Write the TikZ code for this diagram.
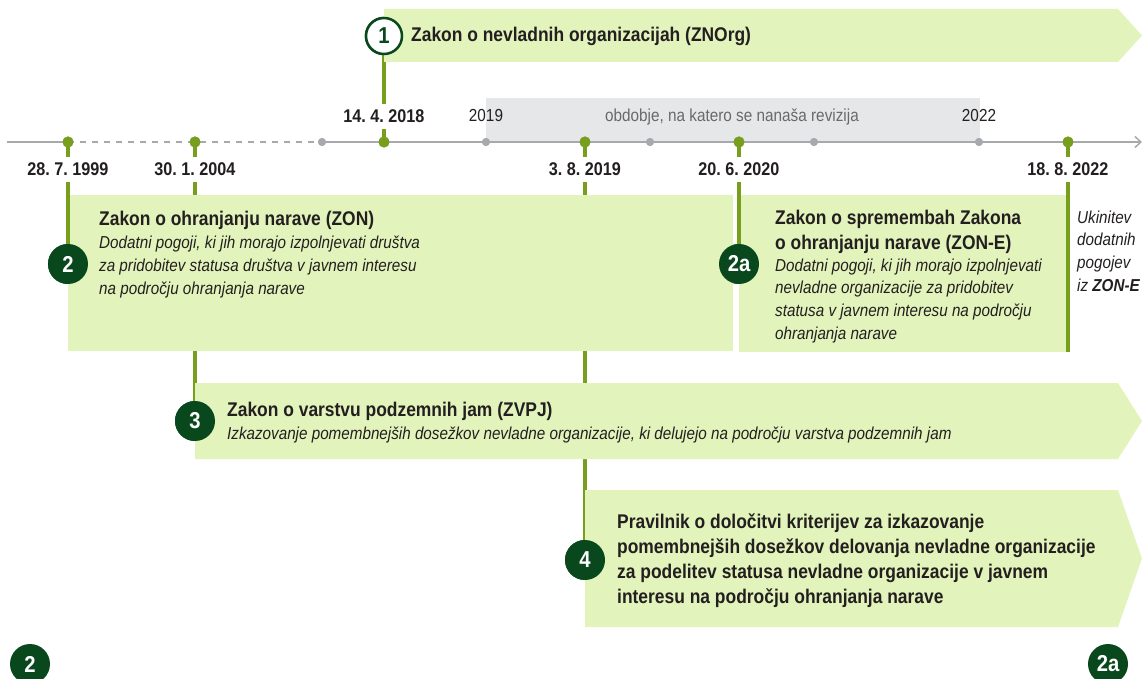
\documentclass[tikz,border=0pt]{standalone}
\usepackage{fontspec}
\setmainfont{Liberation Sans}[FakeStretch=0.88]
\usetikzlibrary{arrows.meta}
\definecolor{boxfill}{RGB}{226,243,187}
\definecolor{lgreen}{RGB}{120,158,30}
\definecolor{dgreen}{RGB}{8,72,28}
\definecolor{tgray}{RGB}{167,169,172}
\definecolor{band}{RGB}{230,231,232}
\definecolor{ink}{RGB}{35,31,32}
\definecolor{bandtxt}{RGB}{105,105,105}
\frenchspacing
\begin{document}
\begin{tikzpicture}[x=1pt,y=-1pt,
 every node/.style={inner sep=0pt, text=ink},
 ttl/.style={anchor=base west, font=\fontsize{19.8}{24}\selectfont\bfseries},
 sub/.style={anchor=base west, font=\fontsize{17.3}{22.5}\selectfont\itshape},
 datelbl/.style={anchor=base, fill=white, inner xsep=3pt, inner ysep=6pt, font=\fontsize{18.4}{23}\selectfont\bfseries},
 yearlbl/.style={anchor=base, font=\fontsize{17.4}{21}\selectfont},
 gdot/.style={circle, fill=lgreen, minimum size=11pt},
 tdot/.style={circle, fill=tgray, minimum size=8pt},
 num/.style={circle, fill=dgreen, minimum size=40pt, text=white, font=\fontsize{23}{26}\selectfont\bfseries},
 numw/.style={circle, fill=white, draw=dgreen, line width=2.5pt, minimum size=36pt, text=dgreen, font=\fontsize{23}{26}\selectfont\bfseries},
 vline/.style={draw=lgreen, line width=4pt},
 tline/.style={draw=tgray, line width=1.5pt},
 boxshape/.style={fill=boxfill}
]
\useasboundingbox (0,0) rectangle (1144,679);
\clip (0,0) rectangle (1144,679);

% period band
\fill[band] (486,98) rectangle (980,142);

% anchors (coordinates)
\coordinate (tstart) at (7,142);
\coordinate (tend) at (1142,142);
\coordinate (e2022) at (1068,352);

% timeline dots as nodes
\node[gdot] (d1999) at (68,142) {};
\node[gdot] (d2004) at (195,142) {};
\node[tdot] (g1) at (322,142) {};
\node[gdot] (d2018) at (384,142) {};
\node[tdot] (g2019) at (486,142) {};
\node[gdot] (d2019) at (585,142) {};
\node[tdot] (g2) at (650,142) {};
\node[gdot] (d2020) at (739,142) {};
\node[tdot] (g3) at (814,142) {};
\node[tdot] (g2022) at (979,142) {};
\node[gdot] (d2022) at (1068,142) {};

% circles
\node[numw] (c1) at (384,36) {1};
\node[num] (c2) at (68,264) {2};
\node[num] (c2a) at (739,264) {2a};
\node[num] (c3) at (195,421) {3};
\node[num] (c4) at (585,560) {4};

% timeline
\draw[tline] (tstart) -- (d1999.center);
\draw[tline, dash pattern=on 6pt off 6pt] (d1999.center) -- (g1.center);
\draw[tline, -{Straight Barb[length=6pt,width=11pt]}] (g1.center) -- (tend);

% vertical lines behind boxes
\draw[vline] (d2018.center) -- (c1.center);
\draw[vline] (d2004.center) -- (c3.center);
\draw[vline] (d2019.center) -- (c4.center);

% boxes
\fill[boxshape] (384,9) -- (1118,9) -- (1142,35.5) -- (1118,62) -- (384,62) -- cycle;
\fill[boxshape] (68,195) rectangle (733,351);
\fill[boxshape] (739,195) rectangle (1068,352);
\fill[boxshape] (195,383) -- (1118,383) -- (1142,421) -- (1118,459) -- (195,459) -- cycle;
\fill[boxshape] (585,490) -- (1118,490) -- (1142,558.5) -- (1118,627) -- (585,627) -- cycle;

% vertical lines on box edges
\draw[vline] (d1999.center) -- (c2.center);
\draw[vline] (d2020.center) -- (c2a.center);
\draw[vline] (d2022.center) -- (e2022);

% redraw dots and circles on top
\node[gdot] at (d1999) {};
\node[gdot] at (d2004) {};
\node[tdot] at (g1) {};
\node[gdot] at (d2018) {};
\node[tdot] at (g2019) {};
\node[gdot] at (d2019) {};
\node[tdot] at (g2) {};
\node[gdot] at (d2020) {};
\node[tdot] at (g3) {};
\node[tdot] at (g2022) {};
\node[gdot] at (d2022) {};
\node[numw] at (c1) {1};
\node[num] at (c2) {2};
\node[num] at (c2a) {2a};
\node[num] at (c3) {3};
\node[num] at (c4) {4};
\node[num] (b2) at (30,664) {2};
\node[num] (b2a) at (1108,664) {2a};

% date labels
\node[datelbl] (l1999) at (68,176) {28. 7. 1999};
\node[datelbl] (l2004) at (195,176) {30. 1. 2004};
\node[datelbl] (l2018) at (384,123) {14. 4. 2018};
\node[datelbl] (l2019) at (585,176) {3. 8. 2019};
\node[datelbl] (l2020) at (739,176) {20. 6. 2020};
\node[datelbl] (l2022) at (1068,176) {18. 8. 2022};

% period labels
\node[yearlbl] (y2019) at (486,122) {2019};
\node[yearlbl] (y2022) at (979,122) {2022};
\node[yearlbl, text=bandtxt] (yper) at (732,122) {obdobje, na katero se nanaša revizija};

% box 1
\node[ttl] (t1) at (411,41.5) {Zakon o nevladnih organizacijah (ZNOrg)};

% box 2
\node[ttl] (t2) at (99,225.5) {Zakon o ohranjanju narave (ZON)};
\node[sub] (s2a) at (99,248.5) {Dodatni pogoji, ki jih morajo izpolnjevati društva};
\node[sub] (s2b) at (99,271.5) {za pridobitev statusa društva v javnem interesu};
\node[sub] (s2c) at (99,294.5) {na področju ohranjanja narave};

% box 2a
\node[ttl] (t2e1) at (775,224.5) {Zakon o spremembah Zakona};
\node[ttl] (t2e2) at (775,249.5) {o ohranjanju narave (ZON-E)};
\node[sub] (s2ea) at (775,271.5) {Dodatni pogoji, ki jih morajo izpolnjevati};
\node[sub] (s2eb) at (775,294) {nevladne organizacije za pridobitev};
\node[sub] (s2ec) at (775,316.5) {statusa v javnem interesu na področju};
\node[sub] (s2ed) at (775,339) {ohranjanja narave};

% side note
\node[sub] (u1) at (1077,223.5) {Ukinitev};
\node[sub] (u2) at (1077,246) {dodatnih};
\node[sub] (u3) at (1077,268.5) {pogojev};
\node[sub] (u4) at (1077,291) {iz \textbf{ZON-E}};

% box 3
\node[ttl] (t3) at (227,416.5) {Zakon o varstvu podzemnih jam (ZVPJ)};
\node[sub] (s3) at (227,439.5) {Izkazovanje pomembnejših dosežkov nevladne organizacije, ki delujejo na področju varstva podzemnih jam};

% box 4
\node[ttl] (t4a) at (617,528.5) {Pravilnik o določitvi kriterijev za izkazovanje};
\node[ttl] (t4b) at (617,553.5) {pomembnejših dosežkov delovanja nevladne organizacije};
\node[ttl] (t4c) at (617,578.5) {za podelitev statusa nevladne organizacije v javnem};
\node[ttl] (t4d) at (617,603.5) {interesu na področju ohranjanja narave};
\end{tikzpicture}
\end{document}
